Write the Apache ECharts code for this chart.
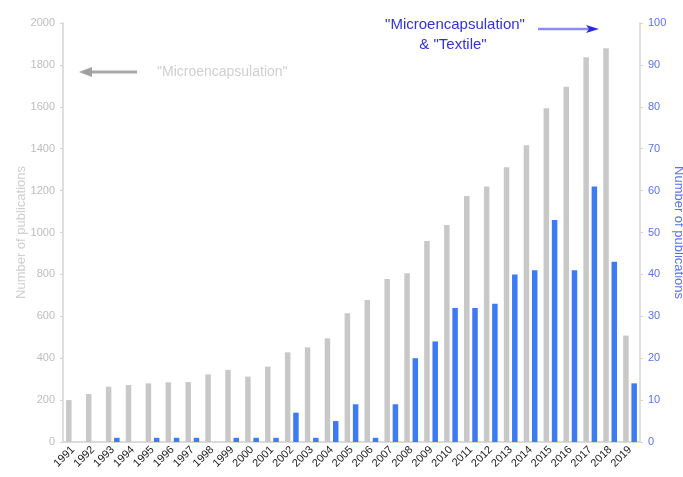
<!DOCTYPE html>
<html>
<head>
<meta charset="utf-8">
<script src="https://cdn.jsdelivr.net/npm/echarts@6/dist/echarts.min.js"></script>
<style>
  html, body { margin: 0; padding: 0; background: #fff; }
  #chart { width: 683px; height: 477px; }
</style>
</head>
<body>
<div id="chart"></div>
<script>
// Publication years
const years = ['1991','1992','1993','1994','1995','1996','1997','1998','1999','2000',
  '2001','2002','2003','2004','2005','2006','2007','2008','2009','2010',
  '2011','2012','2013','2014','2015','2016','2017','2018','2019'];

// Publications matching "Microencapsulation" (left axis)
const microencapsulation = [200, 229, 264, 272, 280, 285, 286, 323, 344, 312,
  360, 428, 452, 495, 615, 678, 778, 805, 959, 1036,
  1174, 1219, 1311, 1416, 1593, 1696, 1837, 1880, 508];

// Publications matching "Microencapsulation" & "Textile" (right axis)
const microTextile = [0, 0, 1, 0, 1, 1, 1, 0, 1, 1,
  1, 7, 1, 5, 9, 1, 9, 20, 24, 32,
  32, 33, 40, 41, 53, 41, 61, 43, 14];

const leftTicks = { min: 0, max: 2000, interval: 200 };
const rightTicks = { min: 0, max: 100, interval: 10 };

const FONT = 'Liberation Sans, Arial, sans-serif';
const GRAY = '#c8c8c8';
const BLUE = '#3d7bf2';

const chart = echarts.init(document.getElementById('chart'), null, { renderer: 'canvas' });

chart.setOption({
  animation: false,
  backgroundColor: '#ffffff',
  grid: { left: 63, right: 43, top: 23, bottom: 35, containLabel: false, outerBoundsMode: 'none' },
  xAxis: {
    type: 'category',
    data: years,
    axisLine: { lineStyle: { color: '#d0d0d0', width: 1.5 } },
    axisTick: { show: false },
    axisLabel: {
      rotate: 45, interval: 0, fontSize: 11, color: '#222', fontFamily: FONT, margin: 6
    }
  },
  yAxis: [
    {
      type: 'value',
      min: leftTicks.min, max: leftTicks.max, interval: leftTicks.interval,
      name: 'Number of publications',
      nameLocation: 'middle', nameGap: 35, nameRotate: 90, nameMoveOverlap: false,
      nameTextStyle: { color: '#cfcfcf', fontSize: 13, fontFamily: FONT },
      axisLine: { show: true, lineStyle: { color: '#d4d4d4', width: 1.5 } },
      axisTick: { show: true, length: 3, lineStyle: { color: '#d4d4d4' } },
      axisLabel: { color: '#bdbdbd', fontSize: 11, fontFamily: FONT, margin: 8, formatter: v => String(v) },
      splitLine: { show: false }
    },
    {
      type: 'value',
      min: rightTicks.min, max: rightTicks.max, interval: rightTicks.interval,
      name: 'Number of publications',
      nameLocation: 'middle', nameGap: 32, nameRotate: -90, nameMoveOverlap: false,
      nameTextStyle: { color: '#5b73e6', fontSize: 13, fontFamily: FONT },
      position: 'right',
      axisLine: { show: true, lineStyle: { color: '#d4d4d4', width: 1.5 } },
      axisTick: { show: true, length: 3, lineStyle: { color: '#d4d4d4' } },
      axisLabel: { color: '#5b73e6', fontSize: 11, fontFamily: FONT, margin: 8 },
      splitLine: { show: false }
    }
  ],
  series: [
    {
      name: 'Microencapsulation',
      type: 'bar',
      yAxisIndex: 0,
      data: microencapsulation,
      barWidth: 5.5,
      barGap: '50%',
      itemStyle: { color: GRAY }
    },
    {
      name: 'Microencapsulation & Textile',
      type: 'bar',
      yAxisIndex: 1,
      data: microTextile,
      barWidth: 5.5,
      itemStyle: { color: BLUE }
    }
  ],
  graphic: [
    // left-pointing arrow for the gray series
    {
      type: 'line', shape: { x1: 90, y1: 72, x2: 137, y2: 72 },
      style: { stroke: '#a8a8a8', lineWidth: 3 }
    },
    {
      type: 'polygon', shape: { points: [[79, 72], [92, 67], [92, 77]] },
      style: { fill: '#a0a0a0' }
    },
    {
      type: 'text', x: 157, y: 72,
      style: { text: '"Microencapsulation"', fill: '#cfcfcf', font: '14px ' + FONT, verticalAlign: 'middle' }
    },
    // right-pointing arrow for the blue series
    {
      type: 'text', x: 455, y: 25,
      style: {
        text: '"Microencapsulation"', fill: '#3333d0',
        font: '15px ' + FONT, align: 'center', verticalAlign: 'middle'
      }
    },
    {
      type: 'text', x: 453, y: 45,
      style: {
        text: '& "Textile"', fill: '#3333d0',
        font: '15px ' + FONT, align: 'center', verticalAlign: 'middle'
      }
    },
    {
      type: 'line', shape: { x1: 538, y1: 29, x2: 590, y2: 29 },
      style: { stroke: '#8c8cf0', lineWidth: 2.5 }
    },
    {
      type: 'polygon', shape: { points: [[599, 29], [586, 25], [589, 29], [586, 33]] },
      style: { fill: '#2a2ad8' }
    }
  ]
});
</script>
</body>
</html>
